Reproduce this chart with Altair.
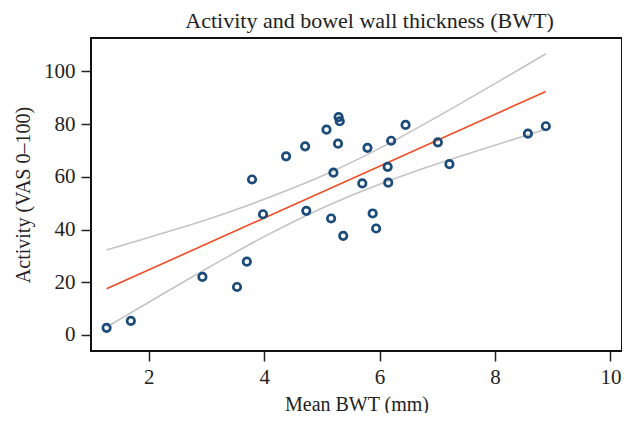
import altair as alt
import pandas as pd

# Scatter data
bwt = [1.27, 1.69, 2.93, 3.53, 3.70, 3.79, 3.98, 4.38, 4.71, 4.73,
       5.08, 5.16, 5.37, 5.20, 5.28, 5.29, 5.31, 5.70, 5.79, 5.88,
       5.94, 6.14, 6.15, 6.20, 6.45, 7.01, 7.21, 8.57, 8.88]
activity = [2.7, 5.3, 22.0, 18.2, 27.8, 59.0, 45.8, 67.8, 71.6, 47.1,
            77.9, 44.2, 37.6, 61.6, 72.6, 82.7, 81.1, 57.5, 71.0, 46.1,
            40.4, 63.8, 57.8, 73.7, 79.7, 73.1, 64.8, 76.4, 79.2]

# Fitted line (red), read at its two ends
fit_x = [1.27, 8.88]
fit_y = [17.5, 92.4]

# Confidence band curves (grey)
band_x = [1.27, 2.0, 3.0, 4.0, 5.0, 6.0, 7.0, 8.0, 8.88]
band_upper = [32.2, 37.0, 43.7, 51.5, 60.3, 70.8, 82.8, 95.4, 106.7]
band_lower = [3.0, 12.4, 25.1, 37.3, 48.1, 57.2, 65.0, 72.0, 78.1]

x_ticks = [2, 4, 6, 8, 10]
y_ticks = [0, 20, 40, 60, 80, 100]

FONT = "Liberation Serif"

pts = pd.DataFrame({"x": bwt, "y": activity})
fit = pd.DataFrame({"x": fit_x, "y": fit_y})
band = pd.DataFrame({
    "x": band_x + band_x,
    "y": band_upper + band_lower,
    "which": ["upper"] * len(band_x) + ["lower"] * len(band_x),
})

x_scale = alt.Scale(domain=[1.0, 10.2], nice=False, zero=False)
y_scale = alt.Scale(domain=[-6.1, 112.7], nice=False, zero=False)

x_axis = alt.Axis(values=x_ticks, format="d", title="Mean BWT (mm)", grid=False, domain=False,
                  tickSize=10, tickColor="#222222", tickWidth=1.5,
                  labelPadding=5, titlePadding=7)
y_axis = alt.Axis(values=y_ticks, format="d", title="Activity (VAS 0\u2013100)", grid=False, domain=False,
                  tickSize=10, tickColor="#222222", tickWidth=1.5,
                  labelPadding=6, titlePadding=10)

bands = alt.Chart(band).mark_line(color="#c4c4c4", strokeWidth=1.6, interpolate="monotone").encode(
    x=alt.X("x:Q", scale=x_scale, axis=x_axis),
    y=alt.Y("y:Q", scale=y_scale, axis=y_axis),
    detail="which:N",
)

fit_line = alt.Chart(fit).mark_line(color="#f04b24", strokeWidth=1.6).encode(
    x=alt.X("x:Q", scale=x_scale),
    y=alt.Y("y:Q", scale=y_scale),
)

points = alt.Chart(pts).mark_point(shape="circle", filled=False, color="#1c4b7a",
                                   strokeWidth=2.7, size=56, opacity=1).encode(
    x=alt.X("x:Q", scale=x_scale),
    y=alt.Y("y:Q", scale=y_scale),
)

chart = alt.layer(bands, fit_line, points).properties(
    width=531,
    height=313,
    title=alt.TitleParams("Activity and bowel wall thickness (BWT)", fontSize=22,
                          font=FONT, fontWeight="normal", anchor="middle",
                          dx=13, offset=5, color="#222222"),
    autosize=alt.AutoSizeParams(type="none"),
    padding={"left": 83, "top": 30, "right": 0, "bottom": 62},
).configure_view(
    stroke="#111111", strokeWidth=2
).configure_axis(
    labelFont=FONT, titleFont=FONT, labelFontSize=21, titleFontSize=20,
    labelColor="#222222", titleColor="#222222", titleFontWeight="normal"
)

chart.save("out.html", embed_options={"renderer": "svg", "actions": False})
